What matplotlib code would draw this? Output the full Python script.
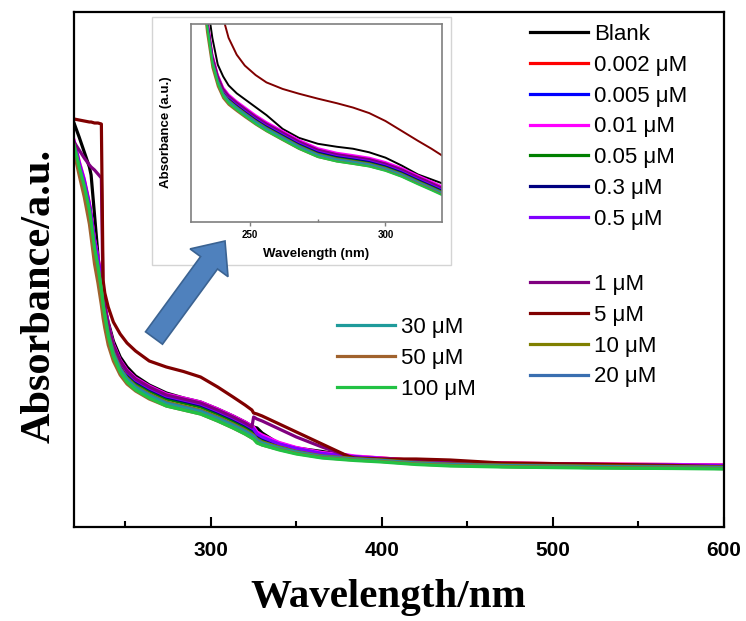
import matplotlib
matplotlib.use("Agg")
import matplotlib.pyplot as plt
import matplotlib.patches as mpatches
from matplotlib.ticker import FixedLocator

plt.rcParams['font.family'] = ['Liberation Sans', 'DejaVu Sans']

# ---------------- data (main panel) ----------------
wavelength = [220, 223, 226, 229, 230, 232, 234, 236, 237, 238, 240, 243, 247, 251, 256, 264, 274, 284, 294, 304,
              313, 320, 324, 325, 327, 330, 340, 350, 365, 380, 384, 400, 420, 440, 470, 520, 570, 600]

blank = [4.04, 3.90, 3.75, 3.60, 3.52, 3.12, 2.72, 2.37, 2.29, 2.20, 2.05, 1.86, 1.70, 1.60, 1.51, 1.42, 1.34, 1.29, 1.25, 1.18,
         1.11, 1.05, 1.01, 1.00, 0.99, 0.94, 0.83, 0.79, 0.755, 0.715, 0.70, 0.66, 0.635, 0.62, 0.605, 0.595, 0.59, 0.585]
c0002 = [3.86, 3.65, 3.47, 3.23, 3.12, 2.87, 2.69, 2.46, 2.32, 2.22, 2.02, 1.82, 1.66, 1.56, 1.48, 1.40, 1.32, 1.28, 1.24, 1.17,
         1.10, 1.04, 1.00, 0.99, 0.94, 0.91, 0.84, 0.79, 0.74, 0.715, 0.705, 0.69, 0.665, 0.65, 0.64, 0.63, 0.625, 0.62]
c0005 = [3.84, 3.63, 3.44, 3.20, 3.09, 2.84, 2.66, 2.43, 2.29, 2.19, 1.99, 1.79, 1.63, 1.53, 1.45, 1.37, 1.29, 1.25, 1.21, 1.14,
         1.07, 1.01, 0.97, 0.96, 0.91, 0.88, 0.82, 0.775, 0.725, 0.70, 0.695, 0.68, 0.655, 0.64, 0.63, 0.62, 0.615, 0.61]
c001 = [3.87, 3.66, 3.48, 3.24, 3.13, 2.88, 2.70, 2.47, 2.33, 2.23, 2.03, 1.83, 1.67, 1.57, 1.49, 1.41, 1.33, 1.29, 1.25, 1.18,
        1.11, 1.05, 1.01, 1.00, 0.95, 0.92, 0.845, 0.795, 0.745, 0.72, 0.71, 0.69, 0.665, 0.65, 0.64, 0.63, 0.625, 0.62]
c005 = [3.83, 3.62, 3.43, 3.19, 3.08, 2.83, 2.65, 2.42, 2.28, 2.18, 1.98, 1.78, 1.62, 1.52, 1.44, 1.36, 1.28, 1.24, 1.20, 1.13,
        1.06, 1.00, 0.96, 0.95, 0.90, 0.87, 0.815, 0.77, 0.72, 0.70, 0.69, 0.675, 0.65, 0.635, 0.625, 0.615, 0.61, 0.605]
c03 = [3.84, 3.63, 3.45, 3.21, 3.10, 2.85, 2.67, 2.44, 2.30, 2.20, 2.00, 1.80, 1.64, 1.54, 1.46, 1.38, 1.30, 1.26, 1.22, 1.15,
       1.08, 1.02, 0.98, 0.97, 0.92, 0.89, 0.825, 0.78, 0.73, 0.705, 0.70, 0.68, 0.655, 0.64, 0.63, 0.62, 0.615, 0.61]
c05 = [3.85, 3.64, 3.46, 3.22, 3.11, 2.86, 2.68, 2.45, 2.31, 2.21, 2.01, 1.81, 1.65, 1.55, 1.47, 1.39, 1.31, 1.27, 1.23, 1.16,
       1.09, 1.03, 0.99, 0.98, 0.93, 0.90, 0.83, 0.785, 0.735, 0.71, 0.70, 0.685, 0.66, 0.645, 0.635, 0.625, 0.62, 0.615]
c1 = [3.85, 3.77, 3.69, 3.62, 3.60, 3.57, 3.53, 3.49, 2.30, 2.20, 2.02, 1.82, 1.66, 1.56, 1.48, 1.40, 1.32, 1.28, 1.24, 1.17,
      1.10, 1.04, 1.00, 1.10, 1.08, 1.06, 0.98, 0.90, 0.80, 0.71, 0.685, 0.665, 0.645, 0.635, 0.625, 0.615, 0.61, 0.605]
c5 = [4.08, 4.07, 4.06, 4.05, 4.05, 4.04, 4.04, 4.03, 2.47, 2.34, 2.20, 2.05, 1.93, 1.84, 1.76, 1.66, 1.60, 1.555, 1.50, 1.40,
      1.30, 1.22, 1.17, 1.14, 1.13, 1.11, 1.03, 0.95, 0.83, 0.71, 0.69, 0.68, 0.68, 0.67, 0.64, 0.63, 0.615, 0.60]
c10 = [3.82, 3.60, 3.40, 3.15, 3.03, 2.78, 2.60, 2.37, 2.23, 2.13, 1.94, 1.75, 1.59, 1.49, 1.41, 1.33, 1.25, 1.21, 1.17, 1.10,
       1.03, 0.97, 0.93, 0.92, 0.88, 0.85, 0.80, 0.755, 0.71, 0.69, 0.685, 0.67, 0.645, 0.63, 0.62, 0.61, 0.605, 0.60]
c20 = [3.81, 3.59, 3.39, 3.14, 3.02, 2.77, 2.59, 2.36, 2.22, 2.12, 1.93, 1.74, 1.58, 1.48, 1.40, 1.32, 1.24, 1.20, 1.16, 1.09,
       1.02, 0.96, 0.92, 0.91, 0.87, 0.84, 0.79, 0.75, 0.705, 0.685, 0.68, 0.665, 0.64, 0.625, 0.615, 0.605, 0.60, 0.595]
c30 = [3.80, 3.58, 3.38, 3.13, 3.01, 2.75, 2.57, 2.34, 2.20, 2.10, 1.91, 1.72, 1.57, 1.47, 1.39, 1.31, 1.23, 1.19, 1.15, 1.08,
       1.01, 0.95, 0.91, 0.90, 0.86, 0.835, 0.785, 0.745, 0.70, 0.68, 0.675, 0.66, 0.635, 0.62, 0.61, 0.60, 0.595, 0.59]
c50 = [3.75, 3.52, 3.30, 3.03, 2.90, 2.63, 2.44, 2.22, 2.09, 1.99, 1.82, 1.66, 1.52, 1.43, 1.36, 1.28, 1.21, 1.17, 1.13, 1.06,
       0.99, 0.93, 0.89, 0.88, 0.845, 0.82, 0.775, 0.735, 0.695, 0.675, 0.67, 0.655, 0.63, 0.615, 0.605, 0.595, 0.59, 0.585]
c100 = [3.82, 3.60, 3.41, 3.17, 3.05, 2.79, 2.61, 2.37, 2.22, 2.11, 1.91, 1.71, 1.55, 1.45, 1.37, 1.29, 1.21, 1.17, 1.13, 1.06,
        0.99, 0.93, 0.89, 0.88, 0.84, 0.82, 0.77, 0.73, 0.69, 0.67, 0.665, 0.65, 0.625, 0.61, 0.60, 0.59, 0.585, 0.58]

labels = ["Blank", "0.002 \u03bcM", "0.005 \u03bcM", "0.01 \u03bcM", "0.05 \u03bcM", "0.3 \u03bcM", "0.5 \u03bcM",
          "1 \u03bcM", "5 \u03bcM", "10 \u03bcM", "20 \u03bcM", "30 \u03bcM", "50 \u03bcM", "100 \u03bcM"]
colors = ["#000000", "#ff0000", "#0000ff", "#ff00ff", "#008000", "#000080", "#8000ff",
          "#800080", "#800000", "#808000", "#3a6fb0", "#1f9b9b", "#a0622d", "#22c244"]
series = [blank, c0002, c0005, c001, c005, c03, c05, c1, c5, c10, c20, c30, c50, c100]

xticks = [300, 400, 500, 600]
xtick_labels = ["300", "400", "500", "600"]
xminor = [250, 350, 450, 550]

# ---------------- data (inset) ----------------
inset_wl = [232, 234, 236, 238, 240, 242, 245, 248, 252, 256, 262, 268, 275, 282, 288, 294, 300, 306, 312, 317, 321]
i_blank = [1.40, 1.12, 0.93, 0.795, 0.735, 0.69, 0.65, 0.62, 0.58, 0.54, 0.47, 0.425, 0.395, 0.38, 0.37, 0.352, 0.325, 0.285, 0.24, 0.215, 0.195]
i_c0002 = [1.29, 1.03, 0.84, 0.74, 0.675, 0.64, 0.606, 0.575, 0.535, 0.50, 0.455, 0.41, 0.368, 0.345, 0.333, 0.32, 0.298, 0.268, 0.23, 0.20, 0.175]
i_c0005 = [1.27, 1.01, 0.824, 0.724, 0.659, 0.624, 0.59, 0.559, 0.519, 0.484, 0.439, 0.394, 0.352, 0.329, 0.317, 0.304, 0.282, 0.252, 0.214, 0.184, 0.159]
i_c001 = [1.30, 1.04, 0.85, 0.745, 0.68, 0.645, 0.61, 0.58, 0.54, 0.505, 0.46, 0.415, 0.373, 0.35, 0.338, 0.325, 0.303, 0.273, 0.235, 0.205, 0.18]
i_c005 = [1.27, 1.01, 0.82, 0.72, 0.655, 0.62, 0.586, 0.555, 0.515, 0.48, 0.435, 0.39, 0.348, 0.325, 0.313, 0.30, 0.278, 0.248, 0.21, 0.18, 0.155]
i_c03 = [1.28, 1.02, 0.828, 0.728, 0.663, 0.628, 0.594, 0.563, 0.523, 0.488, 0.443, 0.398, 0.356, 0.333, 0.321, 0.308, 0.286, 0.256, 0.218, 0.188, 0.163]
i_c05 = [1.28, 1.02, 0.833, 0.733, 0.668, 0.633, 0.599, 0.568, 0.528, 0.493, 0.448, 0.403, 0.361, 0.338, 0.326, 0.313, 0.291, 0.261, 0.223, 0.193, 0.168]
i_c1 = [1.29, 1.03, 0.84, 0.738, 0.673, 0.638, 0.604, 0.573, 0.533, 0.498, 0.453, 0.408, 0.366, 0.343, 0.331, 0.318, 0.296, 0.266, 0.228, 0.198, 0.173]
i_c5 = [1.90, 1.60, 1.35, 1.15, 1.03, 0.93, 0.845, 0.79, 0.742, 0.705, 0.672, 0.648, 0.623, 0.60, 0.578, 0.55, 0.51, 0.46, 0.41, 0.37, 0.335]
i_c10 = [1.26, 1.00, 0.815, 0.715, 0.65, 0.615, 0.581, 0.55, 0.51, 0.475, 0.43, 0.385, 0.343, 0.32, 0.308, 0.295, 0.273, 0.243, 0.205, 0.175, 0.15]
i_c20 = [1.26, 1.00, 0.812, 0.712, 0.647, 0.612, 0.578, 0.547, 0.507, 0.472, 0.427, 0.382, 0.34, 0.317, 0.305, 0.292, 0.27, 0.24, 0.202, 0.172, 0.147]
i_c30 = [1.26, 1.00, 0.808, 0.708, 0.643, 0.608, 0.574, 0.543, 0.503, 0.468, 0.423, 0.378, 0.336, 0.313, 0.301, 0.288, 0.266, 0.236, 0.198, 0.168, 0.143]
i_c50 = [1.22, 0.96, 0.78, 0.685, 0.625, 0.592, 0.56, 0.53, 0.492, 0.458, 0.413, 0.369, 0.328, 0.306, 0.294, 0.281, 0.26, 0.23, 0.193, 0.163, 0.138]
i_c100 = [1.25, 0.99, 0.80, 0.70, 0.635, 0.60, 0.566, 0.535, 0.495, 0.46, 0.415, 0.37, 0.328, 0.305, 0.293, 0.28, 0.258, 0.228, 0.19, 0.16, 0.135]
inset_series = [i_blank, i_c0002, i_c0005, i_c001, i_c005, i_c03, i_c05, i_c1, i_c5, i_c10, i_c20, i_c30, i_c50, i_c100]
inset_xticks = [250, 300]
inset_xtick_labels = ["250", "300"]

for s in series:
    assert len(s) == len(wavelength)
for s in inset_series:
    assert len(s) == len(inset_wl)

# ---------------- figure ----------------
FW, FH = 746, 621
fig = plt.figure(figsize=(FW / 100, FH / 100), dpi=100)


def fx(px):
    return px / FW


def fy(py):
    return 1 - py / FH


ax = fig.add_axes([fx(74), fy(527), 650 / FW, 515 / FH])
lines = []
for lab, vals, col in zip(labels, series, colors):
    ln, = ax.plot(wavelength, vals, color=col, lw=2.3, label=lab)
    lines.append(ln)

ax.set_xlim(220, 600)
ax.set_ylim(0, 5.15)
ax.set_yticks([])
ax.set_xticks(xticks, labels=xtick_labels, fontsize=15, fontweight='bold')
ax.xaxis.set_minor_locator(FixedLocator(xminor))
ax.tick_params(axis='x', which='major', direction='in', length=7, width=1.5, pad=10)
ax.tick_params(axis='x', which='minor', direction='in', length=4, width=1.5)
for sp in ax.spines.values():
    sp.set_linewidth(1.6)

legkw = dict(frameon=False, fontsize=16, handlelength=2.6, handletextpad=0.3,
             labelspacing=0.44, borderpad=0, borderaxespad=0, loc='upper left',
             bbox_transform=fig.transFigure)
leg1 = ax.legend(handles=lines[:7], bbox_to_anchor=(fx(530), fy(24)), **legkw)
ax.add_artist(leg1)
leg2 = ax.legend(handles=lines[7:11], bbox_to_anchor=(fx(530), fy(274)), **legkw)
ax.add_artist(leg2)
leg3 = ax.legend(handles=lines[11:], bbox_to_anchor=(fx(337), fy(317)), **legkw)

fig.text(fx(388), fy(598), "Wavelength/nm", ha='center', va='center', fontsize=29.5,
         fontweight='bold', family=['Liberation Serif', 'DejaVu Serif'])
fig.text(fx(40), fy(296), "Absorbance/a.u.", ha='center', va='center', rotation=90, fontsize=30.5,
         fontweight='bold', family=['Liberation Serif', 'DejaVu Serif'])

# inset panel background
panel = mpatches.Rectangle((fx(152), fy(265)), 299 / FW, 248 / FH, transform=fig.transFigure,
                           facecolor='white', edgecolor='#d4d4d4', lw=1.0, zorder=1)
fig.add_artist(panel)

axi = fig.add_axes([fx(190.7), fy(222), 251.6 / FW, 198 / FH], zorder=2)
for vals, col in zip(inset_series, colors):
    axi.plot(inset_wl, vals, color=col, lw=1.4)
axi.set_xlim(228, 321)
axi.set_ylim(0, 1)
axi.set_yticks([])
axi.set_xticks(inset_xticks, labels=inset_xtick_labels, fontsize=7, fontweight='bold')
axi.xaxis.set_minor_locator(FixedLocator([275]))
axi.tick_params(axis='x', which='major', direction='out', length=3, width=1, color='#7f7f7f', pad=3)
axi.tick_params(axis='x', which='minor', direction='in', length=2, width=1, color='#7f7f7f')
for sp in axi.spines.values():
    sp.set_color('#7f7f7f')
    sp.set_linewidth(1.2)
fig.text(fx(315.7), fy(254), "Wavelength (nm)", ha='center', va='center', fontsize=9.5, fontweight='bold', zorder=4)
fig.text(fx(166.5), fy(132), "Absorbance (a.u.)", ha='center', va='center', rotation=90, fontsize=9.5,
         fontweight='bold', zorder=4)

# big block arrow pointing to the inset
arrow = mpatches.FancyArrow(1.54, (FH - 338) / 100, 0.71, 0.97, width=0.21, head_width=0.47,
                            head_length=0.27, length_includes_head=True, transform=fig.dpi_scale_trans,
                            facecolor='#4f81bd', edgecolor='#3b6392', lw=1.2, zorder=5)
fig.add_artist(arrow)

fig.savefig("out.png", dpi=100)
